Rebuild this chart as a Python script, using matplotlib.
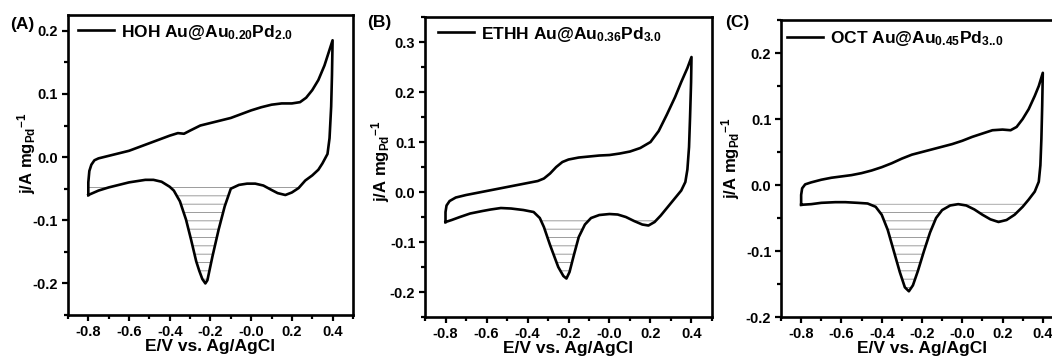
import matplotlib
matplotlib.use("Agg")

import numpy as np
import matplotlib.pyplot as plt
from matplotlib.ticker import MultipleLocator, FormatStrFormatter

plt.rcParams["font.family"] = ["Liberation Sans", "DejaVu Sans"]
plt.rcParams["font.weight"] = "bold"
plt.rcParams["mathtext.fontset"] = "custom"
plt.rcParams["mathtext.rm"] = "Liberation Sans:bold"
plt.rcParams["mathtext.it"] = "Liberation Sans:bold"
plt.rcParams["mathtext.bf"] = "Liberation Sans:bold"
plt.rcParams["axes.unicode_minus"] = False
plt.rcParams["hatch.linewidth"] = 0.6

# --- (A) HOH Au@Au0.20Pd2.0 ---
a_E_fwd = [-0.80, -0.80, -0.795, -0.785, -0.77, -0.75, -0.70, -0.65, -0.60, -0.55, -0.50,
           -0.45, -0.40, -0.36, -0.33, -0.30, -0.25, -0.20, -0.15, -0.10, -0.05, 0.00,
           0.05, 0.10, 0.15, 0.20, 0.24, 0.27, 0.30, 0.33, 0.36, 0.38, 0.40]
a_j_fwd = [-0.060, -0.040, -0.022, -0.012, -0.005, -0.002, 0.002, 0.006, 0.010, 0.016, 0.022,
           0.028, 0.034, 0.038, 0.037, 0.042, 0.050, 0.054, 0.058, 0.062, 0.068, 0.074,
           0.079, 0.083, 0.085, 0.085, 0.087, 0.094, 0.106, 0.122, 0.145, 0.165, 0.185]
a_E_rev = [0.40, 0.397, 0.393, 0.385, 0.375, 0.35, 0.33, 0.30, 0.266, 0.233, 0.20, 0.168,
           0.13, 0.10, 0.06, 0.02, -0.02, -0.06, -0.10, -0.13, -0.16, -0.19, -0.215, -0.225,
           -0.24, -0.255, -0.27, -0.295, -0.32, -0.35, -0.38, -0.40, -0.44, -0.48, -0.52,
           -0.56, -0.60, -0.65, -0.70, -0.75, -0.80]
a_j_rev = [0.185, 0.130, 0.080, 0.030, 0.005, -0.010, -0.020, -0.029, -0.037, -0.049, -0.056,
           -0.060, -0.057, -0.052, -0.045, -0.042, -0.042, -0.044, -0.050, -0.078, -0.115,
           -0.157, -0.195, -0.200, -0.193, -0.180, -0.165, -0.131, -0.099, -0.070, -0.053,
           -0.047, -0.039, -0.036, -0.036, -0.038, -0.040, -0.044, -0.048, -0.053, -0.060]
a_base = -0.037

# --- (B) ETHH Au@Au0.36Pd3.0 ---
b_E_fwd = [-0.80, -0.80, -0.795, -0.78, -0.75, -0.70, -0.65, -0.60, -0.55, -0.50, -0.45,
           -0.40, -0.35, -0.32, -0.29, -0.26, -0.23, -0.20, -0.15, -0.10, -0.05, 0.00,
           0.05, 0.10, 0.15, 0.20, 0.24, 0.28, 0.32, 0.35, 0.38, 0.40]
b_j_fwd = [-0.060, -0.040, -0.027, -0.018, -0.011, -0.006, -0.002, 0.002, 0.006, 0.010, 0.014,
           0.018, 0.022, 0.027, 0.037, 0.050, 0.060, 0.065, 0.069, 0.071, 0.073, 0.074,
           0.077, 0.081, 0.088, 0.100, 0.122, 0.155, 0.190, 0.220, 0.248, 0.270]
b_E_rev = [0.40, 0.398, 0.393, 0.388, 0.38, 0.37, 0.35, 0.32, 0.29, 0.25, 0.22, 0.19, 0.16,
           0.12, 0.08, 0.04, 0.00, -0.05, -0.09, -0.12, -0.15, -0.175, -0.195, -0.21, -0.225,
           -0.25, -0.27, -0.29, -0.32, -0.34, -0.37, -0.42, -0.48, -0.53, -0.58, -0.62,
           -0.68, -0.73, -0.77, -0.80]
b_j_rev = [0.270, 0.220, 0.150, 0.090, 0.045, 0.020, 0.003, -0.012, -0.027, -0.047, -0.060,
           -0.067, -0.065, -0.058, -0.050, -0.045, -0.044, -0.046, -0.052, -0.065, -0.090,
           -0.128, -0.160, -0.173, -0.168, -0.150, -0.128, -0.106, -0.070, -0.052, -0.040,
           -0.036, -0.033, -0.032, -0.035, -0.038, -0.043, -0.050, -0.056, -0.060]
b_base = -0.046

# --- (C) OCT Au@Au0.45Pd3..0 ---
c_E_fwd = [-0.80, -0.80, -0.795, -0.78, -0.75, -0.70, -0.65, -0.60, -0.55, -0.50, -0.45,
           -0.40, -0.35, -0.30, -0.25, -0.20, -0.15, -0.10, -0.05, 0.00, 0.05, 0.10,
           0.15, 0.20, 0.24, 0.27, 0.30, 0.33, 0.36, 0.38, 0.40]
c_j_fwd = [-0.030, -0.015, -0.005, 0.001, 0.004, 0.008, 0.011, 0.013, 0.015, 0.018, 0.022,
           0.027, 0.033, 0.040, 0.046, 0.050, 0.054, 0.058, 0.062, 0.067, 0.073, 0.078,
           0.083, 0.084, 0.083, 0.088, 0.100, 0.115, 0.135, 0.150, 0.170]
c_E_rev = [0.40, 0.397, 0.393, 0.388, 0.38, 0.36, 0.33, 0.30, 0.26, 0.22, 0.18, 0.14, 0.10,
           0.06, 0.02, -0.02, -0.06, -0.10, -0.13, -0.16, -0.19, -0.22, -0.245, -0.265,
           -0.285, -0.31, -0.34, -0.37, -0.40, -0.43, -0.47, -0.52, -0.58, -0.63, -0.70,
           -0.75, -0.80]
c_j_rev = [0.170, 0.120, 0.070, 0.030, 0.005, -0.010, -0.022, -0.033, -0.045, -0.053, -0.056,
           -0.052, -0.045, -0.037, -0.031, -0.029, -0.031, -0.038, -0.050, -0.072, -0.100,
           -0.130, -0.152, -0.161, -0.155, -0.132, -0.100, -0.068, -0.045, -0.033, -0.028,
           -0.027, -0.026, -0.026, -0.027, -0.029, -0.030]
c_base = -0.028

panels = [
    dict(tag="(A)", label=r"HOH Au@Au$_{0.20}$Pd$_{2.0}$",
         E_fwd=a_E_fwd, j_fwd=a_j_fwd, E_rev=a_E_rev, j_rev=a_j_rev, base=a_base,
         rect=[0.0646, 0.125, 0.2709, 0.8333], ylim=(-0.25, 0.225), yticks=(-0.2, 0.2),
         tag_xy=(22, 25), ylab_xy=(-0.105, 0.54), leg_xy=(0.035, 0.975)),
    dict(tag="(B)", label=r"ETHH Au@Au$_{0.36}$Pd$_{3.0}$",
         E_fwd=b_E_fwd, j_fwd=b_j_fwd, E_rev=b_E_rev, j_rev=b_j_rev, base=b_base,
         rect=[0.404, 0.1194, 0.2728, 0.8333], ylim=(-0.25, 0.35), yticks=(-0.2, 0.3),
         tag_xy=(379, 22), ylab_xy=(-0.115, 0.52), leg_xy=(0.045, 0.975)),
    dict(tag="(C)", label=r"OCT Au@Au$_{0.45}$Pd$_{3.\!.\!0}$",
         E_fwd=c_E_fwd, j_fwd=c_j_fwd, E_rev=c_E_rev, j_rev=c_j_rev, base=c_base,
         rect=[0.7424, 0.1194, 0.268, 0.825], ylim=(-0.2, 0.25), yticks=(-0.2, 0.2),
         tag_xy=(737, 22), ylab_xy=(-0.14, 0.535), leg_xy=(0.02, 0.97)),
]

W, H = 1052, 360
fig = plt.figure(figsize=(W / 100, H / 100), dpi=100, facecolor="white")

for p in panels:
    ax = fig.add_axes(p["rect"])
    E = np.array(p["E_fwd"] + p["E_rev"])
    j = np.array(p["j_fwd"] + p["j_rev"])
    Er = np.array(p["E_rev"])
    jr = np.array(p["j_rev"])

    # shaded reduction peak below the baseline of the cathodic sweep
    ax.fill_between(Er, p["base"], jr, where=jr < p["base"], interpolate=True,
                    facecolor="none", edgecolor="0.55", hatch="--", linewidth=0, zorder=1)
    ax.plot(E, j, color="black", lw=1.9, solid_joinstyle="round", zorder=3,
            label=p["label"])

    ax.set_xlim(-0.9, 0.5)
    ax.set_ylim(*p["ylim"])
    ax.xaxis.set_minor_locator(MultipleLocator(0.1))
    ax.yaxis.set_minor_locator(MultipleLocator(0.05))
    lo, hi = p["yticks"]
    ax.set_yticks(np.round(np.arange(lo, hi + 0.001, 0.1), 2))
    ax.set_xticks(np.round(np.arange(-0.8, 0.401, 0.2), 2))
    ax.xaxis.set_major_formatter(FormatStrFormatter("%.1f"))
    ax.yaxis.set_major_formatter(FormatStrFormatter("%.1f"))

    for s in ax.spines.values():
        s.set_linewidth(1.9)
    ax.tick_params(which="both", direction="out", width=1.6, top=False, right=False,
                   labelsize=10.5)
    ax.tick_params(which="major", length=4.5, pad=2.5)
    ax.tick_params(which="minor", length=3)
    for t in ax.get_xticklabels() + ax.get_yticklabels():
        t.set_fontweight("bold")

    ax.set_xlabel("E/V vs. Ag/AgCl", fontsize=12.5, fontweight="bold", labelpad=0)
    ax.set_ylabel(r"j/A mg$_{Pd}$$^{-1}$", fontsize=12, fontweight="bold")
    ax.yaxis.set_label_coords(*p["ylab_xy"])

    ax.legend(loc="upper left", bbox_to_anchor=p["leg_xy"], frameon=False,
              prop=dict(size=12.5, weight="bold"), handlelength=2.1,
              handletextpad=0.4, borderpad=0, borderaxespad=0)

    fig.text(p["tag_xy"][0] / W, 1 - p["tag_xy"][1] / H, p["tag"], fontsize=12.5,
             fontweight="bold", ha="center", va="center")

fig.savefig("out.png", dpi=100)
